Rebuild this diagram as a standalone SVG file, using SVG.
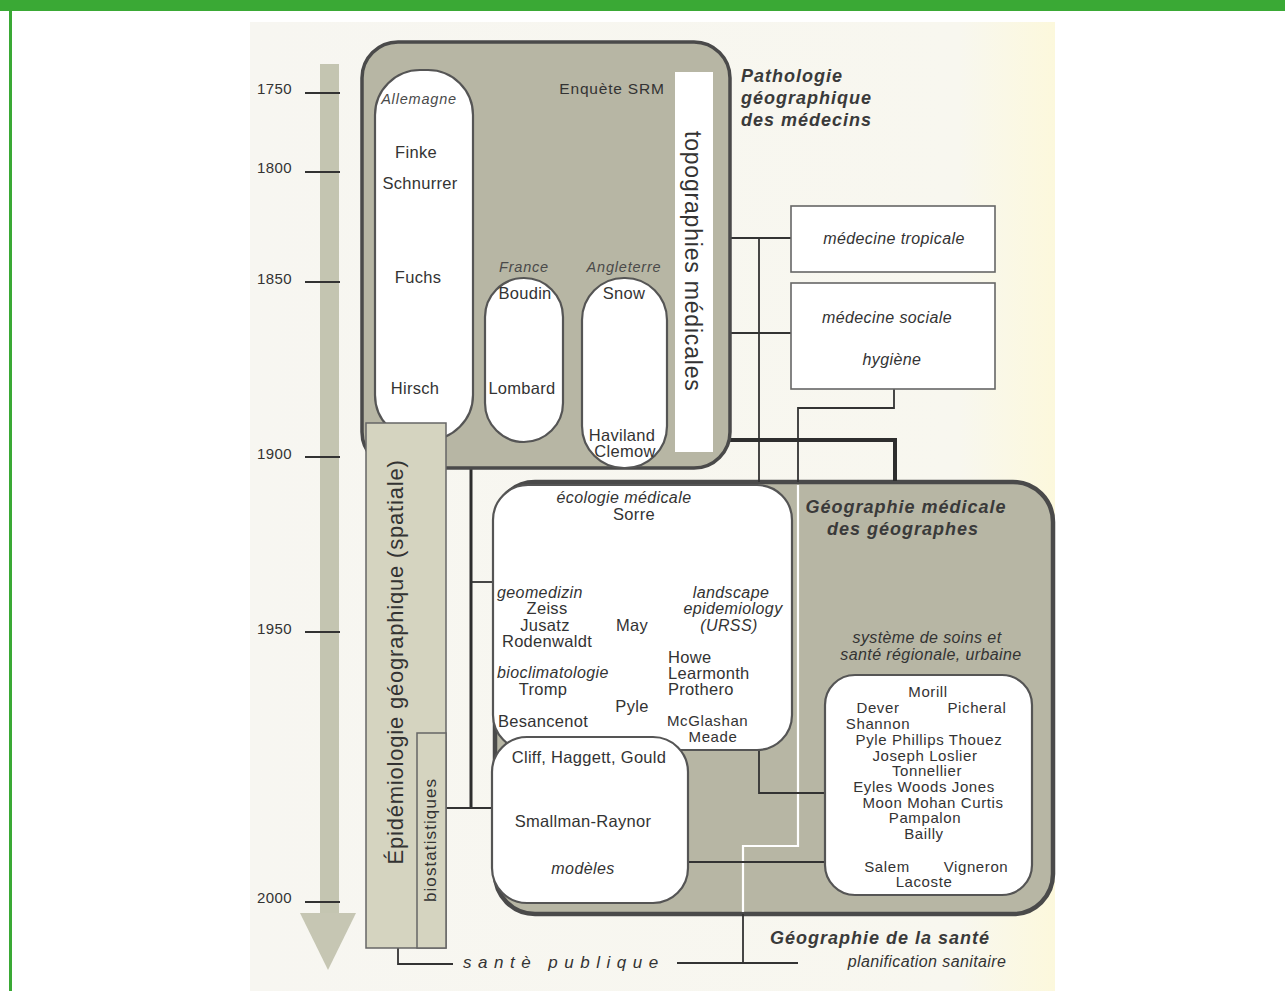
<svg xmlns="http://www.w3.org/2000/svg" width="1285" height="991" viewBox="0 0 1285 991">
  <defs>
    <linearGradient id="paper" x1="0" y1="0" x2="1" y2="0">
      <stop offset="0" stop-color="#f7f6f1"/>
      <stop offset="0.88" stop-color="#f8f7ef"/>
      <stop offset="1" stop-color="#fcf8dc"/>
    </linearGradient>
    <style>
      .t { font-family: "Liberation Sans", Arial, Helvetica, sans-serif; fill: #333333; }
      .n { font-size: 16.5px; letter-spacing: 0.3px; text-anchor: middle; }
      .i { font-style: italic; font-size: 16px; letter-spacing: 0.4px; text-anchor: middle; }
      .sm { font-size: 14.5px; letter-spacing: 0.8px; fill: #4a4a4a; }
      .d { font-size: 15px; letter-spacing: 0.6px; }
      .b { font-weight: bold; font-style: italic; font-size: 18px; letter-spacing: 1px; fill: #3a3a3a; }
      .yr { font-size: 15px; letter-spacing: 0.4px; text-anchor: end; fill: #333; }
      .st { text-anchor: start; }
      .gray { fill: #b7b6a4; stroke: #4a4a4a; }
      .white { fill: #ffffff; stroke: #555; stroke-width: 2.2; }
      .ln { fill: none; stroke: #333; stroke-width: 1.8; }
      .thick { fill: none; stroke: #2e2e2e; stroke-width: 4; }
      .tick { stroke: #333; stroke-width: 2; }
    </style>
  </defs>

  <!-- page frame -->
  <rect x="0" y="0" width="1285" height="991" fill="#ffffff"/>
  <rect x="250" y="22" width="805" height="969" fill="url(#paper)"/>
  <rect x="0" y="0" width="1285" height="11" fill="#3aa935"/>
  <rect x="9" y="0" width="3" height="991" fill="#3aa935"/>

  <!-- time axis -->
  <g id="timeline">
    <rect x="320" y="64" width="19" height="850" fill="#c4c5b1"/>
    <polygon points="300,913 356,913 328,970" fill="#c6c6b3"/>
    <line class="tick" x1="305" y1="93" x2="340" y2="93"/>
    <line class="tick" x1="305" y1="172" x2="340" y2="172"/>
    <line class="tick" x1="305" y1="282" x2="340" y2="282"/>
    <line class="tick" x1="305" y1="457" x2="340" y2="457"/>
    <line class="tick" x1="305" y1="632" x2="340" y2="632"/>
    <line class="tick" x1="305" y1="902" x2="340" y2="902"/>
    <text class="t yr" x="292" y="94">1750</text>
    <text class="t yr" x="292" y="173">1800</text>
    <text class="t yr" x="292" y="284">1850</text>
    <text class="t yr" x="292" y="459">1900</text>
    <text class="t yr" x="292" y="634">1950</text>
    <text class="t yr" x="292" y="903">2000</text>
  </g>

  <!-- geographers' medical geography -->
  <g id="geo-medicale">
    <rect class="gray" x="495" y="482" width="558" height="432" rx="40" ry="40" stroke-width="4.5"/>
    <text class="t b" x="906" y="513" text-anchor="middle">Géographie médicale</text>
    <text class="t b" x="903" y="535" text-anchor="middle">des géographes</text>
    <text class="t i" x="927" y="643">système de soins et</text>
    <text class="t i" x="931" y="660">santé régionale, urbaine</text>
  </g>

  <!-- connectors -->
  <g id="connectors">
    <polyline points="798,485 798,846 743,846 743,912" fill="none" stroke="#ffffff" stroke-width="2.2"/>
    <line class="ln" x1="743" y1="914" x2="743" y2="963"/>
    <line class="ln" x1="677" y1="963" x2="798" y2="963"/>
    <line class="ln" x1="730" y1="238" x2="791" y2="238"/>
    <line class="ln" x1="730" y1="333" x2="791" y2="333"/>
    <line class="ln" x1="759" y1="238" x2="759" y2="482"/>
    <polyline class="ln" points="894,389 894,408 798,408 798,482"/>
    <polyline class="thick" points="730,440 895,440 895,481"/>
    <line x1="471" y1="468" x2="471" y2="808" stroke="#2e2e2e" stroke-width="3"/>
    <line class="ln" x1="446" y1="808" x2="492" y2="808"/>
    <line class="ln" x1="471" y1="582" x2="493" y2="582"/>
    <polyline class="ln" points="759,750 759,793 825,793"/>
    <line class="ln" x1="688" y1="862" x2="825" y2="862"/>
    <polyline class="ln" points="398,948 398,964 453,964"/>
  </g>

  <!-- medical ecology -->
  <g id="ecologie">
    <rect class="white" x="493" y="485" width="299" height="265" rx="35" ry="35"/>
    <text class="t i" x="624" y="503">écologie médicale</text>
    <text class="t n" x="634" y="520">Sorre</text>
    <text class="t i st" x="497" y="598">geomedizin</text>
    <text class="t n" x="547" y="614">Zeiss</text>
    <text class="t n" x="545" y="631">Jusatz</text>
    <text class="t n" x="547" y="647">Rodenwaldt</text>
    <text class="t n" x="632" y="631">May</text>
    <text class="t i" x="731" y="598">landscape</text>
    <text class="t i" x="733" y="614">epidemiology</text>
    <text class="t i" x="729" y="631">(URSS)</text>
    <text class="t n st" x="668" y="663">Howe</text>
    <text class="t n st" x="668" y="679">Learmonth</text>
    <text class="t n st" x="668" y="695">Prothero</text>
    <text class="t i st" x="497" y="678">bioclimatologie</text>
    <text class="t n" x="543" y="695">Tromp</text>
    <text class="t n" x="632" y="712">Pyle</text>
    <text class="t n st" x="498" y="727">Besancenot</text>
    <text class="t n d st" x="667" y="726">McGlashan</text>
    <text class="t n d" x="713" y="742">Meade</text>
  </g>

  <!-- models -->
  <g id="modeles">
    <rect class="white" x="492" y="737" width="196" height="166" rx="35" ry="35"/>
    <text class="t n" x="589" y="763">Cliff, Haggett, Gould</text>
    <text class="t n" x="583" y="827">Smallman-Raynor</text>
    <text class="t i" x="583" y="874">modèles</text>
  </g>

  <!-- health systems -->
  <g id="systemes-soins">
    <rect class="white" x="825" y="675" width="207" height="220" rx="30" ry="30"/>
    <text class="t n d" x="928" y="697">Morill</text>
    <text class="t n d" x="878" y="713">Dever</text>
    <text class="t n d" x="977" y="713">Picheral</text>
    <text class="t n d" x="878" y="729">Shannon</text>
    <text class="t n d" x="929" y="745">Pyle  Phillips  Thouez</text>
    <text class="t n d" x="925" y="761">Joseph  Loslier</text>
    <text class="t n d" x="927" y="776">Tonnellier</text>
    <text class="t n d" x="924" y="792">Eyles  Woods Jones</text>
    <text class="t n d" x="933" y="808">Moon  Mohan Curtis</text>
    <text class="t n d" x="925" y="823">Pampalon</text>
    <text class="t n d" x="924" y="839">Bailly</text>
    <text class="t n d" x="887" y="872">Salem</text>
    <text class="t n d" x="976" y="872">Vigneron</text>
    <text class="t n d" x="924" y="887">Lacoste</text>
  </g>

  <!-- physicians' geographical pathology -->
  <g id="pathologie">
    <rect class="gray" x="362" y="42" width="368" height="426" rx="36" ry="36" stroke-width="3.5"/>
    <rect x="675" y="72" width="38" height="380" fill="#ffffff"/>
    <text class="t" transform="translate(685,131) rotate(90)" font-size="23" letter-spacing="0.8">topographies médicales</text>
    <text class="t" x="612" y="94" text-anchor="middle" font-size="15.5" letter-spacing="0.8">Enquète SRM</text>
    <text class="t b" x="741" y="82">Pathologie</text>
    <text class="t b" x="741" y="104">géographique</text>
    <text class="t b" x="741" y="126">des médecins</text>
  </g>

  <g id="allemagne">
    <rect class="white" x="375" y="70" width="98" height="370" rx="45" ry="45"/>
    <text class="t i sm" x="419" y="104">Allemagne</text>
    <text class="t n" x="416" y="158">Finke</text>
    <text class="t n" x="420" y="189">Schnurrer</text>
    <text class="t n" x="418" y="283">Fuchs</text>
    <text class="t n" x="415" y="394">Hirsch</text>
  </g>

  <g id="france">
    <text class="t i sm" x="524" y="272">France</text>
    <rect class="white" x="485" y="278" width="78" height="164" rx="39" ry="39"/>
    <text class="t n" x="525" y="299">Boudin</text>
    <text class="t n" x="522" y="394">Lombard</text>
  </g>

  <g id="angleterre">
    <text class="t i sm" x="624" y="272">Angleterre</text>
    <rect class="white" x="582" y="278" width="85" height="190" rx="42" ry="42"/>
    <text class="t n" x="624" y="299">Snow</text>
    <text class="t n" x="622" y="441" font-size="15">Haviland</text>
    <text class="t n" x="625" y="457" font-size="15">Clemow</text>
  </g>

  <!-- side boxes -->
  <g id="medecine-tropicale">
    <rect x="791" y="206" width="204" height="66" fill="#ffffff" stroke="#666" stroke-width="1.6"/>
    <text class="t i" x="894" y="244" font-size="19" letter-spacing="0.6">médecine tropicale</text>
  </g>
  <g id="medecine-sociale">
    <rect x="791" y="283" width="204" height="106" fill="#ffffff" stroke="#666" stroke-width="1.6"/>
    <text class="t i" x="887" y="323" font-size="19" letter-spacing="0.6">médecine sociale</text>
    <text class="t i" x="892" y="365" font-size="19" letter-spacing="0.6">hygiène</text>
  </g>

  <!-- spatial epidemiology -->
  <g id="epidemiologie">
    <rect x="366" y="423" width="80" height="525" fill="#d5d4c0" stroke="#666" stroke-width="1.5"/>
    <rect x="417" y="733" width="29" height="215" fill="#d5d4c0" stroke="#666" stroke-width="1.5"/>
    <text class="t" transform="translate(403,662) rotate(-90)" text-anchor="middle" font-size="22" letter-spacing="0.8">Épidémiologie géographique (spatiale)</text>
    <text class="t" transform="translate(436,840) rotate(-90)" text-anchor="middle" font-size="17" letter-spacing="1.1">biostatistiques</text>
  </g>

  <!-- bottom labels -->
  <g id="sante-publique">
    <text class="t" x="463" y="968" font-style="italic" font-size="17" letter-spacing="6.5">santè publique</text>
  </g>
  <g id="geo-sante">
    <text class="t b" x="880" y="944" text-anchor="middle">Géographie de la santé</text>
    <text class="t i" x="927" y="967" font-size="17">planification sanitaire</text>
  </g>
</svg>
